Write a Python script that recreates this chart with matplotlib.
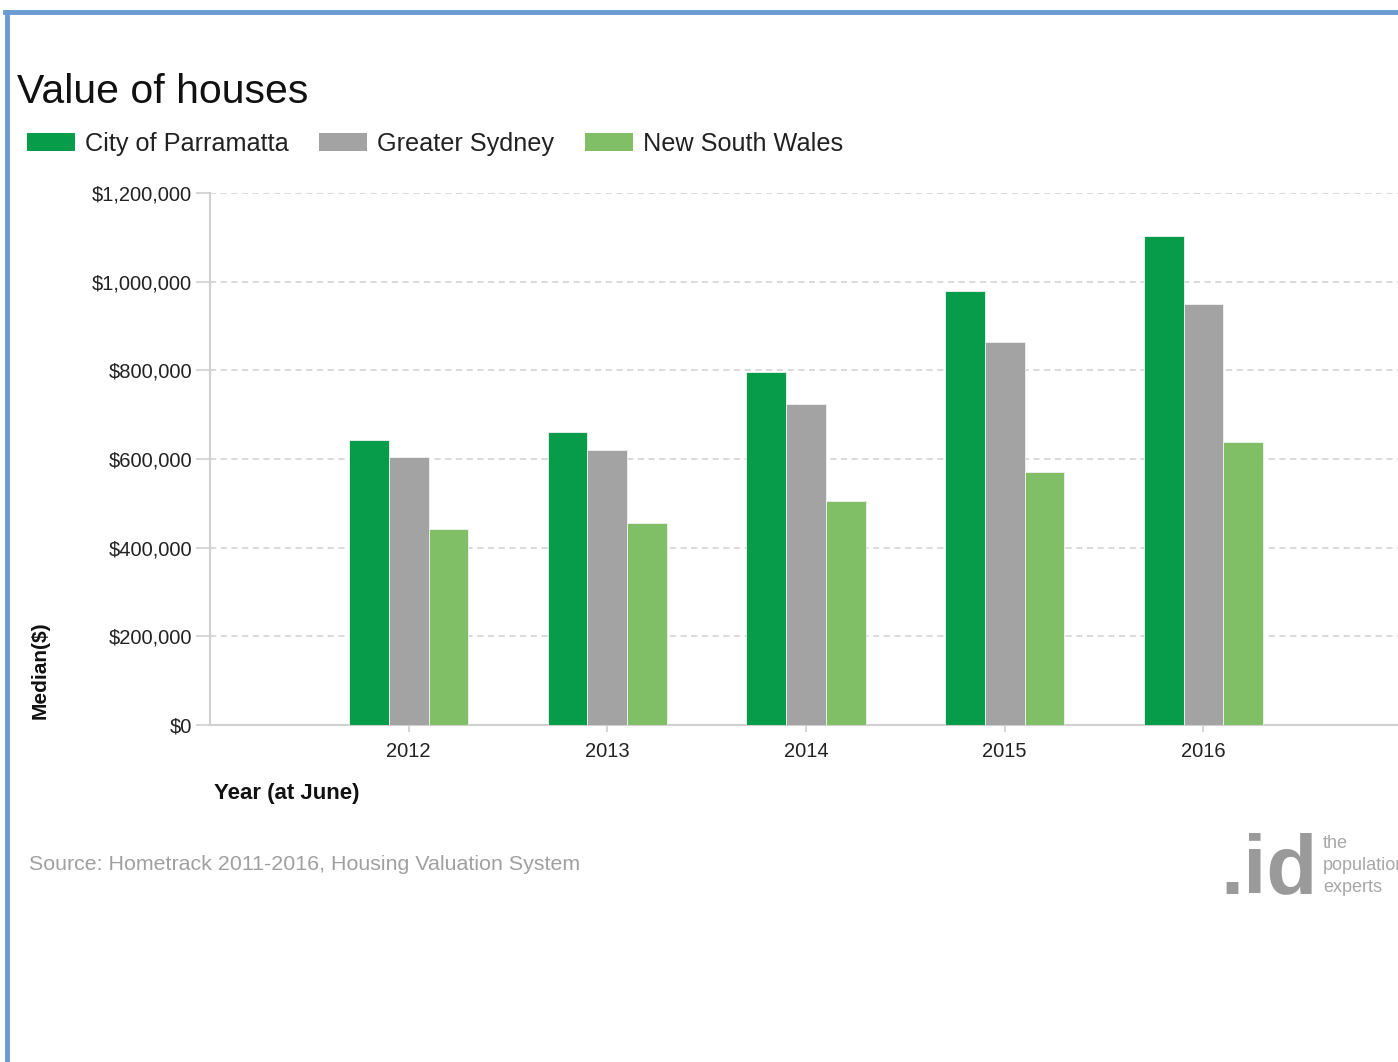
import matplotlib
matplotlib.use("Agg")
import matplotlib.pyplot as plt
import numpy as np
from matplotlib.lines import Line2D
from matplotlib.patches import Patch
from matplotlib.ticker import FuncFormatter

plt.rcParams['font.family'] = ['Liberation Sans', 'DejaVu Sans']

years = ['2012', '2013', '2014', '2015', '2016']
parramatta = [643000, 660000, 797000, 980000, 1103000]
sydney = [605000, 621000, 724000, 864000, 950000]
nsw = [443000, 455000, 506000, 570000, 638000]

series_names = ['City of Parramatta', 'Greater Sydney', 'New South Wales']
colors = ['#069C4A', '#A3A3A3', '#80BF66']

fig = plt.figure(figsize=(13.98, 10.62), dpi=100)
ax = fig.add_axes([210 / 1398, 1 - 725 / 1062, 1 - 210 / 1398 + 0.01, (725 - 193) / 1062])

x = np.arange(1, len(years) + 1)
w = 0.2
for i, (vals, c) in enumerate(zip([parramatta, sydney, nsw], colors)):
    ax.bar(x + (i - 1) * w, vals, width=w, color=c, edgecolor='#f2f2f2',
           linewidth=0.6, zorder=3)

ax.set_xlim(0, 6.05)
ax.set_ylim(0, 1200000)
ax.set_yticks(np.arange(0, 1200001, 200000))
ax.yaxis.set_major_formatter(FuncFormatter(lambda v, p: f"${v:,.0f}"))
ax.set_xticks(x)
ax.set_xticklabels(years)

ax.grid(axis='y', color='#d0d0d0', linestyle=(0, (4, 3)), linewidth=1.1, zorder=0)
for s in ['top', 'right']:
    ax.spines[s].set_visible(False)
for s in ['left', 'bottom']:
    ax.spines[s].set_color('#d0d0d0')
    ax.spines[s].set_linewidth(1.5)

ax.tick_params(axis='y', length=10, width=1.2, color='#d0d0d0', pad=3,
               labelsize=14.5, labelcolor='#222222')
ax.tick_params(axis='x', length=5, width=1.2, color='#d0d0d0', pad=7,
               labelsize=14.5, labelcolor='#222222')

# title and legend
fig.text(17 / 1398, 1 - 92 / 1062, 'Value of houses', fontsize=29.5,
         ha='left', va='center', color='#111111')
handles = [Patch(facecolor=c, edgecolor='none') for c in colors]
fig.legend(handles, series_names, loc='upper left', ncol=3, frameon=False,
           bbox_to_anchor=(27 / 1398, 1 - 132 / 1062), borderpad=0,
           borderaxespad=0, fontsize=18.2, handlelength=1.9, handleheight=0.75,
           handletextpad=0.4, columnspacing=1.2, labelcolor='#222222')

# axis titles
fig.text(214 / 1398, 1 - 793 / 1062, 'Year (at June)', fontsize=16,
         fontweight='bold', ha='left', va='center', color='#111111')
fig.text(40 / 1398, 1 - 670 / 1062, 'Median($)', fontsize=15, fontweight='bold',
         rotation=90, ha='center', va='center', color='#111111')

# source note
fig.text(29 / 1398, 1 - 865 / 1062, 'Source: Hometrack 2011-2016, Housing Valuation System',
         fontsize=15.4, color='#a0a0a0', ha='left', va='center')

# logo
fig.text(1318 / 1398, 1 - 893 / 1062, '.id', fontsize=60, fontweight='bold',
         color='#9a9a9a', ha='right', va='baseline')
for txt, yy in [('the', 843), ('population', 865), ('experts', 887)]:
    fig.text(1323 / 1398, 1 - yy / 1062, txt, fontsize=13, color='#a8a8a8',
             ha='left', va='center')

# frame border
fig.add_artist(Line2D([7 / 1398, 7 / 1398], [0, 1 - 12 / 1062], color='#6A9BD3',
                      linewidth=3.5, transform=fig.transFigure))
fig.add_artist(Line2D([5 / 1398, 1], [1 - 12 / 1062, 1 - 12 / 1062], color='#6A9BD3',
                      linewidth=3.5, transform=fig.transFigure))

fig.savefig('out.png', dpi=100)
